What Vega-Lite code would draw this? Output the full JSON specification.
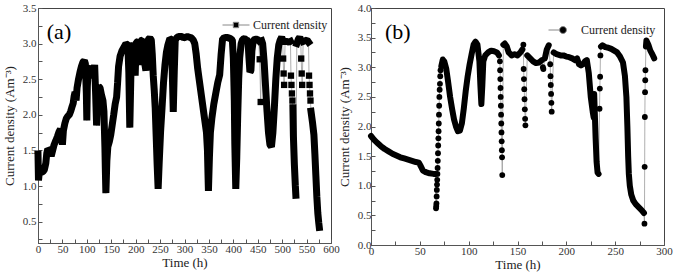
{
  "$schema": "https://vega.github.io/schema/vega-lite/v6.json",
  "padding": {"left": 2, "top": 1, "right": 8, "bottom": 2},
  "spacing": -3,
  "config": {
    "view": {"stroke": "#444", "strokeWidth": 1},
    "font": "Liberation Serif",
    "axis": {"labelFont": "Liberation Serif", "titleFont": "Liberation Serif", "labelFontSize": 11, "titleFontSize": 13, "titleFontWeight": "normal", "labelColor": "#333", "titleColor": "#222", "domainColor": "#555", "tickColor": "#555", "grid": false, "tickSize": -4, "labelFlush": false, "labelOverlap": false},
    "legend": {"labelFont": "Liberation Serif", "labelFontSize": 12, "labelColor": "#222", "orient": "none", "padding": 0}
  },
  "datasets": {
    "a": [
      {"t":0,"j":1.45,"k":"b","g":1},{"t":1,"j":1.08,"k":"b","g":1},{"t":3,"j":1.22,"k":"b","g":1},{"t":6,"j":1.19,"k":"b","g":1},{"t":10,"j":1.2,"k":"b","g":1},{"t":13,"j":1.23,"k":"b","g":1},{"t":16,"j":1.32,"k":"b","g":1},{"t":18,"j":1.46,"k":"b","g":1},{"t":20,"j":1.52,"k":"b","g":1},{"t":24,"j":1.5,"k":"b","g":1},{"t":27,"j":1.42,"k":"b","g":1},{"t":30,"j":1.5,"k":"b","g":1},{"t":33,"j":1.58,"k":"b","g":1},{"t":36,"j":1.63,"k":"b","g":1},{"t":40,"j":1.7,"k":"b","g":1},{"t":43,"j":1.76,"k":"b","g":1},{"t":46,"j":1.8,"k":"b","g":1},{"t":48,"j":1.72,"k":"b","g":1},{"t":50,"j":1.58,"k":"b","g":1},{"t":52,"j":1.78,"k":"b","g":1},{"t":55,"j":1.88,"k":"b","g":1},{"t":58,"j":1.95,"k":"b","g":1},{"t":61,"j":1.98,"k":"b","g":1},{"t":64,"j":2.0,"k":"b","g":1},{"t":67,"j":2.05,"k":"b","g":1},{"t":70,"j":2.12,"k":"b","g":1},{"t":72,"j":2.16,"k":"b","g":1},{"t":74,"j":2.26,"k":"b","g":1},{"t":76,"j":2.32,"k":"b","g":1},{"t":78,"j":2.2,"k":"b","g":1},{"t":80,"j":2.38,"k":"b","g":1},{"t":83,"j":2.5,"k":"b","g":1},{"t":86,"j":2.6,"k":"b","g":1},{"t":89,"j":2.68,"k":"b","g":1},{"t":92,"j":2.74,"k":"b","g":1},{"t":95,"j":2.76,"k":"b","g":1},{"t":97,"j":2.72,"k":"b","g":1},{"t":99,"j":2.3,"k":"b","g":1},{"t":100,"j":1.92,"k":"b","g":1},{"t":101,"j":2.4,"k":"b","g":1},{"t":103,"j":2.66,"k":"b","g":1},{"t":106,"j":2.65,"k":"b","g":1},{"t":109,"j":2.6,"k":"b","g":1},{"t":112,"j":2.52,"k":"b","g":1},{"t":114,"j":2.62,"k":"b","g":1},{"t":116,"j":2.7,"k":"b","g":1},{"t":118,"j":2.3,"k":"b","g":1},{"t":120,"j":1.85,"k":"b","g":1},{"t":122,"j":2.2,"k":"b","g":1},{"t":124,"j":2.4,"k":"b","g":1},{"t":127,"j":2.38,"k":"b","g":1},{"t":130,"j":2.28,"k":"b","g":1},{"t":133,"j":2.2,"k":"b","g":1},{"t":135,"j":2.05,"k":"b","g":1},{"t":137,"j":1.55,"k":"b","g":1},{"t":138,"j":1.2,"k":"b","g":1},{"t":139,"j":0.9,"k":"b","g":1},{"t":141,"j":1.35,"k":"b","g":1},{"t":143,"j":1.55,"k":"b","g":1},{"t":146,"j":1.62,"k":"b","g":1},{"t":149,"j":1.72,"k":"b","g":1},{"t":152,"j":1.86,"k":"b","g":1},{"t":155,"j":2.0,"k":"b","g":1},{"t":158,"j":2.15,"k":"b","g":1},{"t":161,"j":2.25,"k":"b","g":1},{"t":163,"j":2.45,"k":"b","g":1},{"t":165,"j":2.68,"k":"b","g":1},{"t":168,"j":2.82,"k":"b","g":1},{"t":172,"j":2.9,"k":"b","g":1},{"t":176,"j":2.95,"k":"b","g":1},{"t":180,"j":3.0,"k":"b","g":1},{"t":184,"j":2.98,"k":"b","g":1},{"t":186,"j":2.6,"k":"b","g":1},{"t":188,"j":1.82,"k":"b","g":1},{"t":190,"j":2.5,"k":"b","g":1},{"t":192,"j":2.95,"k":"b","g":1},{"t":196,"j":3.0,"k":"b","g":1},{"t":199,"j":2.55,"k":"b","g":1},{"t":201,"j":3.02,"k":"b","g":1},{"t":205,"j":3.03,"k":"b","g":1},{"t":208,"j":2.7,"k":"b","g":1},{"t":210,"j":3.04,"k":"b","g":1},{"t":214,"j":3.05,"k":"b","g":1},{"t":217,"j":2.95,"k":"b","g":1},{"t":219,"j":2.7,"k":"b","g":1},{"t":221,"j":2.62,"k":"b","g":1},{"t":223,"j":2.9,"k":"b","g":1},{"t":226,"j":3.06,"k":"b","g":1},{"t":229,"j":3.08,"k":"b","g":1},{"t":232,"j":3.05,"k":"b","g":1},{"t":234,"j":2.85,"k":"b","g":1},{"t":236,"j":2.55,"k":"b","g":1},{"t":238,"j":2.35,"k":"b","g":1},{"t":240,"j":2.1,"k":"b","g":1},{"t":242,"j":1.7,"k":"b","g":1},{"t":244,"j":1.3,"k":"b","g":1},{"t":246,"j":0.96,"k":"b","g":1},{"t":248,"j":1.3,"k":"b","g":1},{"t":251,"j":1.76,"k":"b","g":1},{"t":254,"j":2.1,"k":"b","g":1},{"t":257,"j":2.45,"k":"b","g":1},{"t":260,"j":2.7,"k":"b","g":1},{"t":263,"j":2.88,"k":"b","g":1},{"t":266,"j":2.98,"k":"b","g":1},{"t":270,"j":3.07,"k":"b","g":1},{"t":273,"j":3.06,"k":"b","g":1},{"t":275,"j":2.6,"k":"b","g":1},{"t":277,"j":2.04,"k":"b","g":1},{"t":279,"j":2.6,"k":"b","g":1},{"t":281,"j":3.05,"k":"b","g":1},{"t":285,"j":3.09,"k":"b","g":1},{"t":290,"j":3.1,"k":"b","g":1},{"t":295,"j":3.1,"k":"b","g":1},{"t":298,"j":3.08,"k":"b","g":1},{"t":302,"j":3.09,"k":"b","g":1},{"t":306,"j":3.1,"k":"b","g":1},{"t":310,"j":3.09,"k":"b","g":1},{"t":314,"j":3.08,"k":"b","g":1},{"t":318,"j":3.05,"k":"b","g":1},{"t":321,"j":3.0,"k":"b","g":1},{"t":324,"j":2.85,"k":"b","g":1},{"t":327,"j":2.65,"k":"b","g":1},{"t":330,"j":2.5,"k":"b","g":1},{"t":334,"j":2.3,"k":"b","g":1},{"t":338,"j":2.1,"k":"b","g":1},{"t":342,"j":1.9,"k":"b","g":1},{"t":345,"j":1.75,"k":"b","g":1},{"t":347,"j":1.5,"k":"b","g":1},{"t":348,"j":1.2,"k":"b","g":1},{"t":349,"j":0.93,"k":"b","g":1},{"t":351,"j":1.4,"k":"b","g":1},{"t":353,"j":1.75,"k":"b","g":1},{"t":356,"j":1.95,"k":"b","g":1},{"t":360,"j":2.15,"k":"b","g":1},{"t":364,"j":2.3,"k":"b","g":1},{"t":368,"j":2.45,"k":"b","g":1},{"t":372,"j":2.56,"k":"b","g":1},{"t":375,"j":2.85,"k":"b","g":1},{"t":378,"j":3.07,"k":"b","g":1},{"t":382,"j":3.08,"k":"b","g":1},{"t":386,"j":3.09,"k":"b","g":1},{"t":390,"j":3.08,"k":"b","g":1},{"t":394,"j":3.07,"k":"b","g":1},{"t":398,"j":3.05,"k":"b","g":1},{"t":400,"j":2.8,"k":"b","g":1},{"t":402,"j":2.2,"k":"b","g":1},{"t":403,"j":1.6,"k":"b","g":1},{"t":405,"j":0.96,"k":"b","g":1},{"t":407,"j":1.4,"k":"b","g":1},{"t":409,"j":2.0,"k":"b","g":1},{"t":411,"j":2.5,"k":"b","g":1},{"t":413,"j":2.8,"k":"b","g":1},{"t":416,"j":3.0,"k":"b","g":1},{"t":419,"j":3.06,"k":"b","g":1},{"t":423,"j":3.07,"k":"b","g":1},{"t":427,"j":3.05,"k":"b","g":1},{"t":430,"j":3.04,"k":"b","g":1},{"t":432,"j":2.8,"k":"b","g":1},{"t":434,"j":2.6,"k":"b","g":1},{"t":436,"j":2.62,"k":"b","g":1},{"t":438,"j":2.9,"k":"b","g":1},{"t":441,"j":3.05,"k":"b","g":1},{"t":445,"j":3.06,"k":"b","g":1},{"t":449,"j":3.06,"k":"b","g":1},{"t":452,"j":3.04,"k":"b","g":1},
      {"t":454,"j":2.78,"k":"d","g":0},{"t":456,"j":2.18,"k":"d","g":0},
      {"t":458,"j":3.04,"k":"b","g":2},{"t":460,"j":3.0,"k":"b","g":2},{"t":463,"j":2.75,"k":"b","g":2},{"t":466,"j":2.4,"k":"b","g":2},{"t":469,"j":2.05,"k":"b","g":2},{"t":472,"j":1.75,"k":"b","g":2},{"t":475,"j":1.58,"k":"b","g":2},{"t":478,"j":1.55,"k":"b","g":2},{"t":481,"j":1.75,"k":"b","g":2},{"t":484,"j":2.1,"k":"b","g":2},{"t":487,"j":2.5,"k":"b","g":2},{"t":490,"j":2.8,"k":"b","g":2},{"t":493,"j":2.98,"k":"b","g":2},{"t":496,"j":3.05,"k":"b","g":2},{"t":499,"j":3.09,"k":"b","g":2},{"t":501,"j":3.05,"k":"b","g":2},
      {"t":502,"j":2.79,"k":"d","g":0},{"t":503,"j":2.58,"k":"d","g":0},{"t":504,"j":2.42,"k":"d","g":0},
      {"t":506,"j":3.03,"k":"b","g":3},{"t":510,"j":3.03,"k":"b","g":3},{"t":514,"j":3.02,"k":"b","g":3},{"t":517,"j":3.03,"k":"b","g":3},
      {"t":518,"j":2.55,"k":"d","g":0},{"t":519,"j":2.42,"k":"d","g":0},{"t":520,"j":2.3,"k":"d","g":0},{"t":521,"j":2.2,"k":"d","g":0},
      {"t":522,"j":2.1,"k":"b","g":4},{"t":523,"j":1.7,"k":"b","g":4},{"t":525,"j":1.3,"k":"b","g":4},{"t":527,"j":1.0,"k":"b","g":4},{"t":528,"j":0.87,"k":"b","g":4},
      {"t":530,"j":3.0,"k":"b","g":5},{"t":533,"j":3.06,"k":"b","g":5},{"t":536,"j":3.09,"k":"b","g":5},{"t":538,"j":3.05,"k":"b","g":5},
      {"t":539,"j":2.79,"k":"d","g":0},{"t":540,"j":2.58,"k":"d","g":0},{"t":541,"j":2.42,"k":"d","g":0},
      {"t":543,"j":3.03,"k":"b","g":6},{"t":547,"j":3.04,"k":"b","g":6},{"t":551,"j":3.05,"k":"b","g":6},{"t":554,"j":3.02,"k":"b","g":6},
      {"t":555,"j":2.55,"k":"d","g":0},{"t":556,"j":2.42,"k":"d","g":0},{"t":557,"j":2.3,"k":"d","g":0},{"t":558,"j":2.2,"k":"d","g":0},
      {"t":559,"j":2.05,"k":"b","g":7},{"t":562,"j":1.9,"k":"b","g":7},{"t":565,"j":1.72,"k":"b","g":7},{"t":567,"j":1.45,"k":"b","g":7},{"t":569,"j":1.15,"k":"b","g":7},{"t":571,"j":0.85,"k":"b","g":7},{"t":573,"j":0.62,"k":"b","g":7},{"t":575,"j":0.48,"k":"b","g":7},{"t":576,"j":0.42,"k":"b","g":7}
    ],
    "b": [
      {"t":0,"j":1.84,"k":"b","g":1},{"t":3,"j":1.78,"k":"b","g":1},{"t":6,"j":1.73,"k":"b","g":1},{"t":10,"j":1.67,"k":"b","g":1},{"t":14,"j":1.62,"k":"b","g":1},{"t":18,"j":1.58,"k":"b","g":1},{"t":22,"j":1.54,"k":"b","g":1},{"t":26,"j":1.51,"k":"b","g":1},{"t":30,"j":1.48,"k":"b","g":1},{"t":34,"j":1.46,"k":"b","g":1},{"t":38,"j":1.44,"k":"b","g":1},{"t":42,"j":1.42,"k":"b","g":1},{"t":46,"j":1.4,"k":"b","g":1},{"t":49,"j":1.39,"k":"b","g":1},{"t":51,"j":1.33,"k":"b","g":1},{"t":53,"j":1.26,"k":"b","g":1},{"t":56,"j":1.23,"k":"b","g":1},{"t":60,"j":1.21,"k":"b","g":1},{"t":64,"j":1.2,"k":"b","g":1},{"t":66,"j":1.2,"k":"b","g":1},
      {"t":66.6,"j":0.62,"k":"d","g":0},{"t":66.8,"j":0.66,"k":"d","g":0},{"t":67,"j":0.7,"k":"d","g":0},{"t":67.2,"j":0.82,"k":"d","g":0},{"t":67.4,"j":0.93,"k":"d","g":0},{"t":67.6,"j":1.02,"k":"d","g":0},{"t":67.8,"j":1.1,"k":"d","g":0},{"t":68,"j":1.2,"k":"d","g":0},{"t":68.2,"j":1.3,"k":"d","g":0},{"t":68.4,"j":1.42,"k":"d","g":0},{"t":68.6,"j":1.55,"k":"d","g":0},{"t":68.8,"j":1.68,"k":"d","g":0},{"t":69,"j":1.8,"k":"d","g":0},{"t":69.2,"j":1.92,"k":"d","g":0},{"t":69.4,"j":2.05,"k":"d","g":0},{"t":69.6,"j":2.2,"k":"d","g":0},{"t":69.8,"j":2.35,"k":"d","g":0},{"t":70,"j":2.5,"k":"d","g":0},{"t":70.3,"j":2.62,"k":"d","g":0},{"t":70.6,"j":2.72,"k":"d","g":0},{"t":70.9,"j":2.85,"k":"d","g":0},{"t":71.2,"j":2.95,"k":"d","g":0},
      {"t":72,"j":3.02,"k":"b","g":2},{"t":73.5,"j":3.13,"k":"b","g":2},{"t":75,"j":3.1,"k":"b","g":2},{"t":77,"j":2.98,"k":"b","g":2},{"t":79,"j":2.75,"k":"b","g":2},{"t":81,"j":2.5,"k":"b","g":2},{"t":83,"j":2.3,"k":"b","g":2},{"t":85,"j":2.12,"k":"b","g":2},{"t":87,"j":2.0,"k":"b","g":2},{"t":89,"j":1.92,"k":"b","g":2},{"t":91,"j":1.93,"k":"b","g":2},{"t":93,"j":2.05,"k":"b","g":2},{"t":95,"j":2.3,"k":"b","g":2},{"t":97,"j":2.6,"k":"b","g":2},{"t":99,"j":2.85,"k":"b","g":2},{"t":101,"j":3.05,"k":"b","g":2},{"t":103,"j":3.22,"k":"b","g":2},{"t":105,"j":3.38,"k":"b","g":2},{"t":107,"j":3.43,"k":"b","g":2},{"t":109,"j":3.38,"k":"b","g":2},{"t":111,"j":3.1,"k":"b","g":2},{"t":112,"j":2.7,"k":"b","g":2},{"t":113,"j":2.38,"k":"b","g":2},{"t":114,"j":2.7,"k":"b","g":2},{"t":115,"j":3.1,"k":"b","g":2},{"t":117,"j":3.2,"k":"b","g":2},{"t":120,"j":3.25,"k":"b","g":2},{"t":123,"j":3.28,"k":"b","g":2},{"t":126,"j":3.27,"k":"b","g":2},{"t":129,"j":3.25,"k":"b","g":2},{"t":131,"j":3.2,"k":"b","g":2},
      {"t":132,"j":3.1,"k":"d","g":0},{"t":132.2,"j":2.95,"k":"d","g":0},{"t":132.4,"j":2.8,"k":"d","g":0},{"t":132.6,"j":2.65,"k":"d","g":0},{"t":132.8,"j":2.5,"k":"d","g":0},{"t":133,"j":2.35,"k":"d","g":0},{"t":133.2,"j":2.2,"k":"d","g":0},{"t":133.4,"j":2.05,"k":"d","g":0},{"t":133.6,"j":1.9,"k":"d","g":0},{"t":133.8,"j":1.75,"k":"d","g":0},{"t":134,"j":1.6,"k":"d","g":0},{"t":134.2,"j":1.48,"k":"d","g":0},{"t":134.4,"j":1.18,"k":"d","g":0},
      {"t":135.5,"j":3.38,"k":"b","g":3},{"t":137,"j":3.4,"k":"b","g":3},{"t":139,"j":3.35,"k":"b","g":3},{"t":141,"j":3.25,"k":"b","g":3},{"t":144,"j":3.2,"k":"b","g":3},{"t":147,"j":3.22,"k":"b","g":3},{"t":150,"j":3.2,"k":"b","g":3},{"t":153,"j":3.25,"k":"b","g":3},{"t":155,"j":3.3,"k":"b","g":3},
      {"t":156,"j":3.38,"k":"d","g":0},{"t":156.3,"j":2.97,"k":"d","g":0},{"t":156.6,"j":2.8,"k":"d","g":0},{"t":156.9,"j":2.63,"k":"d","g":0},{"t":157.2,"j":2.46,"k":"d","g":0},{"t":157.5,"j":2.29,"k":"d","g":0},{"t":157.8,"j":2.13,"k":"d","g":0},{"t":158.1,"j":2.02,"k":"d","g":0},
      {"t":160,"j":3.2,"k":"b","g":4},{"t":163,"j":3.15,"k":"b","g":4},{"t":166,"j":3.1,"k":"b","g":4},{"t":169,"j":3.07,"k":"b","g":4},{"t":172,"j":3.08,"k":"b","g":4},{"t":175,"j":3.12,"k":"b","g":4},
      {"t":176,"j":3.0,"k":"d","g":0},{"t":176.5,"j":2.97,"k":"d","g":0},
      {"t":178,"j":3.15,"k":"b","g":5},{"t":180,"j":3.3,"k":"b","g":5},{"t":182,"j":3.37,"k":"b","g":5},
      {"t":183.5,"j":3.05,"k":"d","g":0},{"t":183.8,"j":2.85,"k":"d","g":0},{"t":184.1,"j":2.7,"k":"d","g":0},{"t":184.4,"j":2.55,"k":"d","g":0},{"t":184.7,"j":2.4,"k":"d","g":0},{"t":185,"j":2.25,"k":"d","g":0},
      {"t":187,"j":3.25,"k":"b","g":6},{"t":190,"j":3.22,"k":"b","g":6},{"t":194,"j":3.2,"k":"b","g":6},{"t":197,"j":3.2,"k":"b","g":6},{"t":200,"j":3.18,"k":"b","g":6},{"t":203,"j":3.17,"k":"b","g":6},{"t":206,"j":3.15,"k":"b","g":6},{"t":209,"j":3.12,"k":"b","g":6},{"t":211,"j":3.15,"k":"b","g":6},{"t":213,"j":3.05,"k":"b","g":6},{"t":215,"j":3.03,"k":"b","g":6},{"t":217,"j":3.05,"k":"b","g":6},{"t":219,"j":3.1,"k":"b","g":6},{"t":221,"j":3.12,"k":"b","g":6},{"t":223,"j":2.9,"k":"b","g":6},{"t":225,"j":2.5,"k":"b","g":6},{"t":227,"j":2.25,"k":"b","g":6},{"t":228,"j":2.15,"k":"b","g":6},{"t":228.5,"j":2.55,"k":"b","g":6},{"t":229,"j":2.3,"k":"b","g":6},{"t":230,"j":1.8,"k":"b","g":6},{"t":231,"j":1.4,"k":"b","g":6},{"t":232,"j":1.22,"k":"b","g":6},{"t":233,"j":1.2,"k":"b","g":6},
      {"t":234,"j":2.3,"k":"d","g":0},{"t":234.3,"j":2.64,"k":"d","g":0},{"t":234.6,"j":2.84,"k":"d","g":0},{"t":234.9,"j":3.2,"k":"d","g":0},
      {"t":235.5,"j":3.35,"k":"b","g":7},{"t":237,"j":3.37,"k":"b","g":7},{"t":240,"j":3.34,"k":"b","g":7},{"t":243,"j":3.33,"k":"b","g":7},{"t":246,"j":3.31,"k":"b","g":7},{"t":249,"j":3.28,"k":"b","g":7},{"t":252,"j":3.25,"k":"b","g":7},{"t":255,"j":3.18,"k":"b","g":7},{"t":258,"j":3.08,"k":"b","g":7},{"t":260,"j":2.85,"k":"b","g":7},{"t":261.5,"j":2.5,"k":"b","g":7},{"t":262.5,"j":2.0,"k":"b","g":7},{"t":263.3,"j":1.5,"k":"b","g":7},{"t":264,"j":1.2,"k":"b","g":7},{"t":265,"j":1.0,"k":"b","g":7},{"t":266.5,"j":0.85,"k":"b","g":7},{"t":268.5,"j":0.75,"k":"b","g":7},{"t":271,"j":0.69,"k":"b","g":7},{"t":274,"j":0.64,"k":"b","g":7},{"t":277,"j":0.59,"k":"b","g":7},{"t":279.5,"j":0.54,"k":"b","g":7},
      {"t":280,"j":0.36,"k":"d","g":0},{"t":280.2,"j":1.32,"k":"d","g":0},{"t":280.4,"j":2.16,"k":"d","g":0},{"t":280.6,"j":2.58,"k":"d","g":0},{"t":280.8,"j":2.78,"k":"d","g":0},{"t":281,"j":2.95,"k":"d","g":0},
      {"t":281.5,"j":3.35,"k":"b","g":8},{"t":282,"j":3.45,"k":"b","g":8},{"t":284,"j":3.38,"k":"b","g":8},{"t":286,"j":3.28,"k":"b","g":8},{"t":288,"j":3.22,"k":"b","g":8},{"t":290,"j":3.15,"k":"b","g":8}
    ]
  },
  "hconcat": [
    {
      "width": 293, "height": 235,
      "data": {"name": "a"},
      "encoding": {
        "x": {"field": "t", "type": "quantitative", "scale": {"domain": [0, 600], "nice": false}, "axis": {"title": "Time (h)", "values": [0,25,50,75,100,125,150,175,200,225,250,275,300,325,350,375,400,425,450,475,500,525,550,575,600], "labelExpr": "datum.value % 50 == 0 ? datum.label : ''", "labelPadding": 4, "titlePadding": 2}},
        "y": {"field": "j", "type": "quantitative", "scale": {"domain": [0.2, 3.5], "nice": false, "zero": false}, "axis": {"title": "Current density (Am⁻³)", "values": [0.25,0.5,0.75,1,1.25,1.5,1.75,2,2.25,2.5,2.75,3,3.25,3.5], "labelExpr": "(datum.value*2) % 1 == 0 ? format(datum.value, '.1f') : ''", "labelPadding": 6, "titlePadding": 6}}
      },
      "layer": [
        {"mark": {"type": "line", "color": "#9a9a9a", "strokeWidth": 0.8}},
        {"transform": [{"filter": "datum.k == 'b'"}], "mark": {"type": "line", "color": "black", "strokeWidth": 7, "strokeCap": "square", "strokeJoin": "bevel"}, "encoding": {"detail": {"field": "g"}}},
        {"transform": [{"filter": "datum.k == 'd'"}], "mark": {"type": "point", "shape": "square", "filled": true, "size": 40, "opacity": 1},
         "encoding": {"color": {"datum": "Current density", "scale": {"range": ["black"]}, "legend": {"title": null, "orient": "none", "legendX": 184, "legendY": 3, "labelOffset": 3, "symbolType": "M-1,0H-0.22M0.22,0H1M-0.2,-0.2H0.2V0.2H-0.2Z", "symbolSize": 729, "symbolStrokeColor": "#888", "symbolStrokeWidth": 1, "symbolFillColor": "black", "symbolOpacity": 1, "encode": {"symbols": {"update": {"stroke": {"value": "#888"}, "strokeWidth": {"value": 1}, "fill": {"value": "black"}}}}}}}},
        {"data": {"values": [{"label": "(a)", "t": 43, "j": 3.17}]}, "mark": {"type": "text", "fontSize": 22, "font": "Liberation Serif", "color": "black"}, "encoding": {"text": {"field": "label", "type": "nominal"}}}
      ]
    },
    {
      "width": 293, "height": 237,
      "data": {"name": "b"},
      "encoding": {
        "x": {"field": "t", "type": "quantitative", "scale": {"domain": [0, 300], "nice": false}, "axis": {"title": "Time (h)", "values": [0,25,50,75,100,125,150,175,200,225,250,275,300], "labelExpr": "datum.value % 50 == 0 ? datum.label : ''", "labelPadding": 4, "titlePadding": 2}},
        "y": {"field": "j", "type": "quantitative", "scale": {"domain": [0, 4], "nice": false, "zero": false}, "axis": {"title": "Current density (Am⁻³)", "values": [0,0.25,0.5,0.75,1,1.25,1.5,1.75,2,2.25,2.5,2.75,3,3.25,3.5,3.75,4], "labelExpr": "(datum.value*2) % 1 == 0 ? format(datum.value, '.1f') : ''", "labelPadding": 4, "titlePadding": 6}}
      },
      "layer": [
        {"mark": {"type": "line", "color": "#9a9a9a", "strokeWidth": 0.8}},
        {"transform": [{"filter": "datum.k == 'b'"}], "mark": {"type": "line", "color": "black", "strokeWidth": 6, "strokeCap": "round", "strokeJoin": "round"}, "encoding": {"detail": {"field": "g"}}},
        {"transform": [{"filter": "datum.k == 'd'"}], "mark": {"type": "point", "shape": "circle", "filled": true, "size": 34, "opacity": 1},
         "encoding": {"color": {"datum": "Current density", "scale": {"range": ["black"]}, "legend": {"title": null, "orient": "none", "legendX": 177, "legendY": 7, "labelOffset": 3, "symbolType": "M-1,0H-0.24M0.24,0A0.24,0.24,0,1,1,-0.24,0A0.24,0.24,0,1,1,0.24,0Z", "symbolSize": 841, "symbolStrokeColor": "#888", "symbolStrokeWidth": 1, "symbolFillColor": "black", "symbolOpacity": 1, "encode": {"symbols": {"update": {"stroke": {"value": "#888"}, "strokeWidth": {"value": 1}, "fill": {"value": "black"}}}}}}}},
        {"data": {"values": [{"label": "(b)", "t": 27.5, "j": 3.6}]}, "mark": {"type": "text", "fontSize": 22, "font": "Liberation Serif", "color": "black"}, "encoding": {"text": {"field": "label", "type": "nominal"}}}
      ]
    }
  ],
  "resolve": {"scale": {"color": "independent"}, "legend": {"color": "independent"}}
}
